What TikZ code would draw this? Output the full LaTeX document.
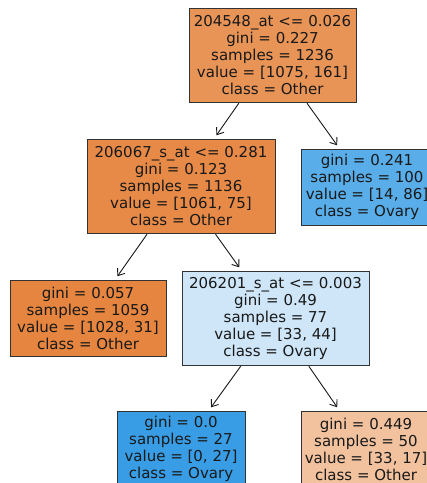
\documentclass[tikz,border=0pt]{standalone}
\usepackage{fontspec}
\setmainfont{DejaVu Sans}
\usetikzlibrary{arrows.meta}
\definecolor{cRoot}{RGB}{233,148,87}
\definecolor{cNtwo}{RGB}{231,138,71}
\definecolor{cLeafA}{RGB}{230,133,63}
\definecolor{cBlueA}{RGB}{89,173,233}
\definecolor{cLightBlue}{RGB}{206,230,248}
\definecolor{cBlueB}{RGB}{57,157,229}
\definecolor{cLightOrange}{RGB}{242,194,159}
\begin{document}
\begin{tikzpicture}[x=1pt,y=-1pt,
  tnode/.style={draw=black!80, line width=0.9pt, align=center,
    font=\fontsize{15}{17}\selectfont, inner sep=0pt, text=black!90},
  five/.style={minimum height=94pt},
  four/.style={minimum height=76pt},
  edge/.style={-{Straight Barb[length=6pt,width=9pt]}, line width=0.9pt,
    draw=black!90, shorten >=4pt, shorten <=1pt}]
\useasboundingbox (0,0) rectangle (427,483);
\clip (0,0) rectangle (427,483);
\fill[white] (0,0) rectangle (427,483);

\node[tnode, five, fill=cRoot, minimum width=167pt] (root) at (272.5,55)
  {204548\_at <= 0.026\\gini = 0.227\\samples = 1236\\value = [1075, 161]\\class = Other};
\node[tnode, five, fill=cNtwo, minimum width=188pt] (ntwo) at (181,186)
  {206067\_s\_at <= 0.281\\gini = 0.123\\samples = 1136\\value = [1061, 75]\\class = Other};
\node[tnode, four, fill=cBlueA, minimum width=132pt] (blueA) at (367,187)
  {gini = 0.241\\samples = 100\\value = [14, 86]\\class = Ovary};
\node[tnode, four, fill=cLeafA, minimum width=156pt] (leafA) at (88,318)
  {gini = 0.057\\samples = 1059\\value = [1028, 31]\\class = Other};
\node[tnode, five, fill=cLightBlue, minimum width=187pt] (nthree) at (275.5,318)
  {206201\_s\_at <= 0.003\\gini = 0.49\\samples = 77\\value = [33, 44]\\class = Ovary};
\node[tnode, four, fill=cBlueB, minimum width=128pt] (leafB) at (181,449)
  {gini = 0.0\\samples = 27\\value = [0, 27]\\class = Ovary};
\node[tnode, four, fill=cLightOrange, minimum width=130pt] (leafC) at (366,449)
  {gini = 0.449\\samples = 50\\value = [33, 17]\\class = Other};

\draw[edge] (root) -- (ntwo);
\draw[edge] (root) -- (blueA);
\draw[edge] (ntwo) -- (leafA);
\draw[edge] (ntwo) -- (nthree);
\draw[edge] (nthree) -- (leafB);
\draw[edge] (nthree) -- (leafC);
\end{tikzpicture}
\end{document}
